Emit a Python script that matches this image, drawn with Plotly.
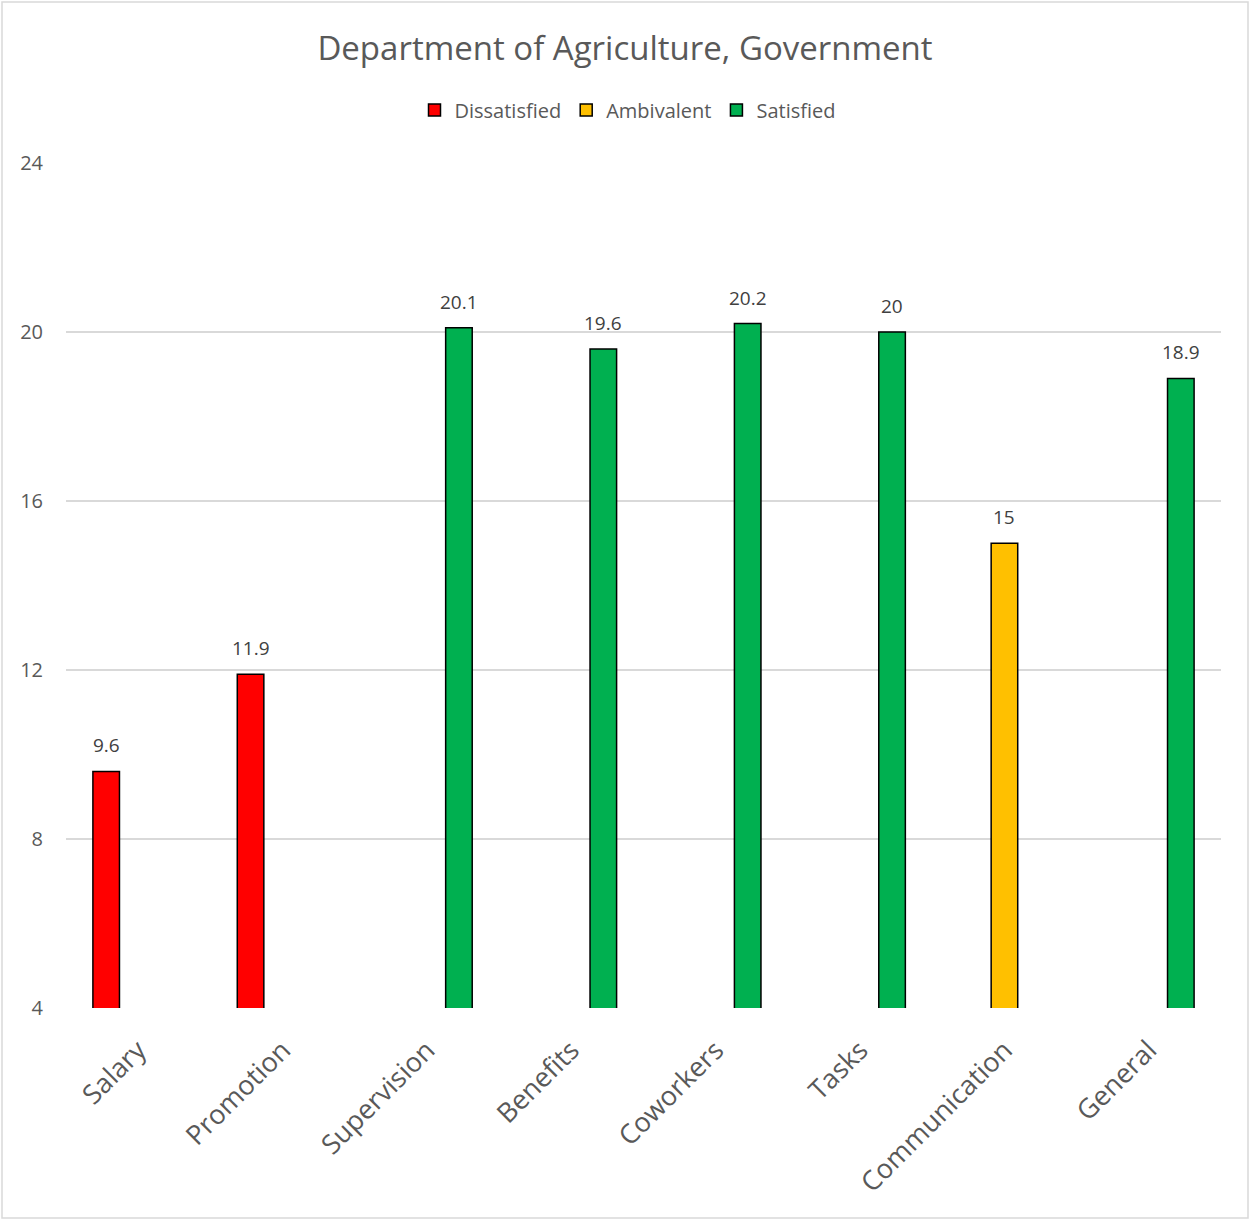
import plotly.graph_objects as go

categories = ["Salary", "Promotion", "Supervision", "Benefits", "Coworkers", "Tasks", "Communication", "General"]
dissatisfied = [9.6, 11.9, None, None, None, None, None, None]
ambivalent = [None, None, None, None, None, None, 15, None]
satisfied = [None, None, 20.1, 19.6, 20.2, 20, None, 18.9]
y_ticks = [4, 8, 12, 16, 20, 24]

series = [
    ("Dissatisfied", dissatisfied, "#FF0000"),
    ("Ambivalent", ambivalent, "#FFC000"),
    ("Satisfied", satisfied, "#00B050"),
]

FONT = "Open Sans"
W, H = 1250, 1220
ml, mr, mt, mb = 66, 29, 163, 212
pw, ph = W - ml - mr, H - mt - mb
BARGAP = 0.335

fig = go.Figure()
annotations = []
slot = pw / len(categories)
per_series = slot * (1 - BARGAP) / len(series)
for i, (name, vals, color) in enumerate(series):
    fig.add_trace(go.Bar(
        x=categories, y=vals, name=name,
        marker=dict(color=color, line=dict(color="#000000", width=1.5)),
    ))
    for c, v in zip(categories, vals):
        if v is None:
            continue
        annotations.append(dict(
            x=c, y=v, xref="x", yref="y", text=f"{v:g}", showarrow=False,
            xanchor="center", yanchor="bottom", yshift=11,
            xshift=(i - (len(series) - 1) / 2) * per_series,
            font=dict(family=FONT, size=19, color="#404040"),
        ))

fig.update_layout(
    width=W, height=H,
    margin=dict(l=ml, r=mr, t=mt, b=mb),
    paper_bgcolor="white", plot_bgcolor="white",
    barmode="group", bargap=BARGAP, bargroupgap=0.17,
    font=dict(family=FONT, color="#595959"),
    title=dict(text="Department of Agriculture, Government", x=0.5, xanchor="center",
               y=1 - 48 / H, yanchor="middle", yref="container",
               font=dict(family=FONT, size=33, color="#595959")),
    legend=dict(orientation="h", x=0.5 - 16 / pw, xanchor="center", y=1 + (mt - 110) / ph,
                yanchor="middle", font=dict(family=FONT, size=20, color="#595959"),
                traceorder="normal", itemwidth=30),
    showlegend=True,
    annotations=annotations,
    xaxis=dict(showgrid=False, showline=False, ticks="", tickangle=-45,
               tickfont=dict(family=FONT, size=27, color="#595959"), ticklabelstandoff=20),
    yaxis=dict(range=[4, 24], tickvals=y_ticks, showgrid=True, gridcolor="#D9D9D9",
               gridwidth=1.5, zeroline=False, showline=False, ticks="",
               tickfont=dict(family=FONT, size=20, color="#595959"), ticklabelstandoff=22),
    shapes=[dict(type="rect", xref="paper", yref="paper",
                 x0=(2 - ml) / pw, x1=(W - 2 - ml) / pw,
                 y0=-(H - 2 - mt - ph) / ph, y1=1 + (mt - 2) / ph,
                 line=dict(color="#D9D9D9", width=1.5), fillcolor="rgba(0,0,0,0)", layer="below")],
)
fig.write_html("out.html")
